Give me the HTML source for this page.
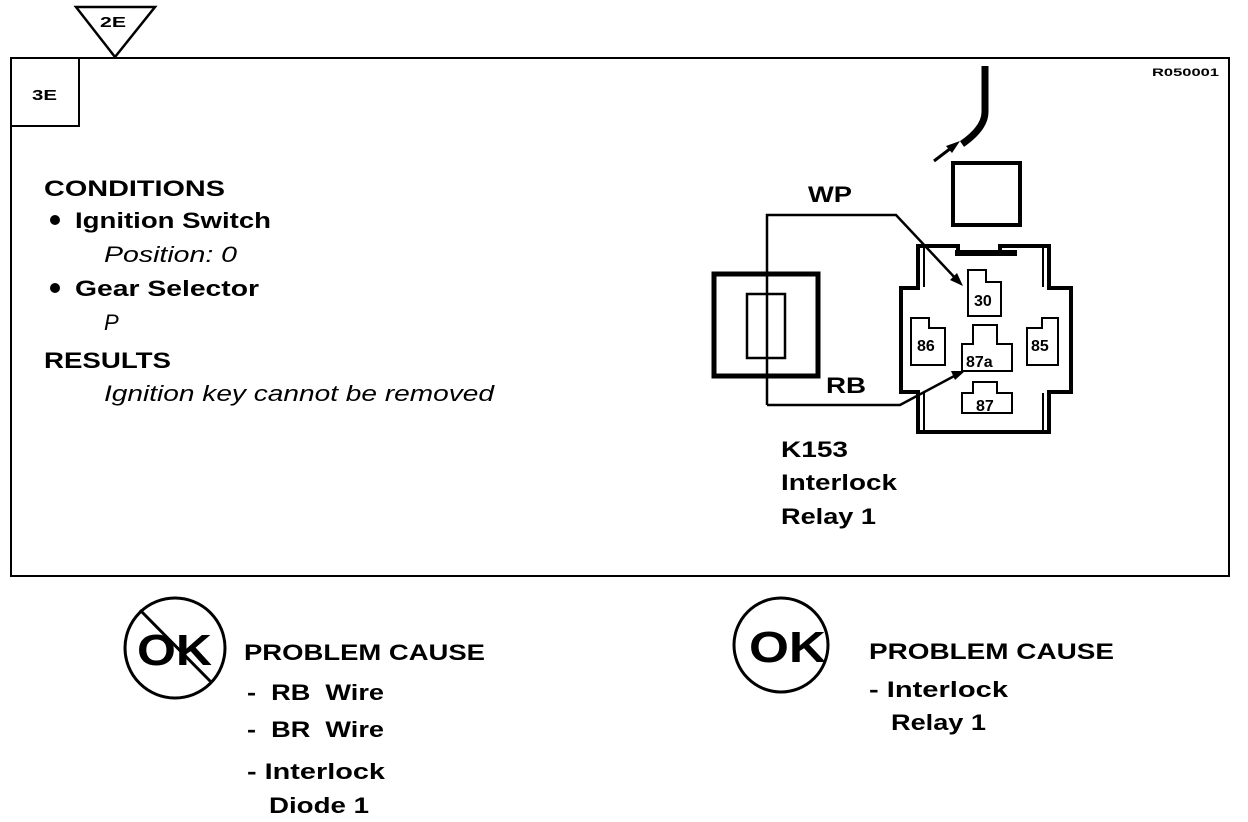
<!DOCTYPE html>
<html><head><meta charset="utf-8"><style>
html,body{margin:0;padding:0;background:#fff;}
svg{display:block;}
text{font-family:"Liberation Sans",Arial,sans-serif;font-weight:bold;fill:#000;}
.it{font-style:italic;font-weight:normal;}
</style></head><body>
<svg width="1248" height="822" viewBox="0 0 1248 822" xmlns="http://www.w3.org/2000/svg">
<rect x="11" y="58" width="1218" height="518" fill="none" stroke="#000" stroke-width="2"/>
<rect x="11" y="58" width="68" height="68" fill="none" stroke="#000" stroke-width="2"/>
<text x="32" y="100" font-size="15" textLength="25" lengthAdjust="spacingAndGlyphs">3E</text>
<polygon points="76,7 155,7 115,57" fill="#fff" stroke="#000" stroke-width="2.5"/>
<text x="100" y="27" font-size="15" textLength="26" lengthAdjust="spacingAndGlyphs">2E</text>
<text x="1152" y="76" font-size="11" font-weight="normal" textLength="67" lengthAdjust="spacingAndGlyphs">R050001</text>

<text x="44" y="196" font-size="22" textLength="181" lengthAdjust="spacingAndGlyphs">CONDITIONS</text>
<circle cx="55" cy="220" r="5"/>
<text x="75" y="228" font-size="22" textLength="196" lengthAdjust="spacingAndGlyphs">Ignition Switch</text>
<text x="104" y="262" font-size="22" class="it" textLength="133" lengthAdjust="spacingAndGlyphs">Position: 0</text>
<circle cx="55" cy="288" r="5"/>
<text x="75" y="296" font-size="22" textLength="184" lengthAdjust="spacingAndGlyphs">Gear Selector</text>
<text x="104" y="330" font-size="22" class="it">P</text>
<text x="44" y="368" font-size="22" textLength="127" lengthAdjust="spacingAndGlyphs">RESULTS</text>
<text x="104" y="401" font-size="22" class="it" textLength="390" lengthAdjust="spacingAndGlyphs">Ignition key cannot be removed</text>

<path d="M985,66 L985,112 Q985,128 962,144" fill="none" stroke="#000" stroke-width="7"/>
<line x1="934" y1="161" x2="955" y2="145" stroke="#000" stroke-width="3"/>
<polygon points="960,141 946,146 952,153" fill="#000"/>
<rect x="953" y="163" width="67" height="62" fill="none" stroke="#000" stroke-width="4"/>

<rect x="714" y="274" width="104" height="102" fill="none" stroke="#000" stroke-width="5"/>
<rect x="747" y="294" width="38" height="64" fill="none" stroke="#000" stroke-width="2.5"/>

<polyline points="767,405 767,215 896,215 957,280" fill="none" stroke="#000" stroke-width="2.5"/>
<polygon points="963,286 950,280 957,273" fill="#000"/>
<polyline points="767,405 900,405 958,374" fill="none" stroke="#000" stroke-width="2.5"/>
<polygon points="965,371 951,371 955,380" fill="#000"/>
<text x="808" y="202" font-size="22" textLength="44" lengthAdjust="spacingAndGlyphs">WP</text>
<text x="826" y="393" font-size="22" textLength="40" lengthAdjust="spacingAndGlyphs">RB</text>

<path d="M918,246 L918,288 L901,288 L901,392 L918,392 L918,432 L1049,432 L1049,392 L1071,392 L1071,288 L1049,288 L1049,246 L1000,246 L1000,252 L958,252 L958,246 Z" fill="none" stroke="#000" stroke-width="4"/>
<line x1="924" y1="247" x2="924" y2="287" stroke="#000" stroke-width="2"/>
<line x1="1043" y1="247" x2="1043" y2="287" stroke="#000" stroke-width="2"/>
<line x1="924" y1="393" x2="924" y2="431" stroke="#000" stroke-width="2"/>
<line x1="1043" y1="393" x2="1043" y2="431" stroke="#000" stroke-width="2"/>
<rect x="955" y="250" width="62" height="6" fill="#000"/>
<path d="M968,270 L986,270 L986,282 L1001,282 L1001,316 L968,316 Z" fill="none" stroke="#000" stroke-width="2"/>
<text x="974" y="306" font-size="16" font-weight="normal">30</text>
<path d="M911,318 L929,318 L929,328 L945,328 L945,365 L911,365 Z" fill="none" stroke="#000" stroke-width="2"/>
<text x="917" y="351" font-size="16" font-weight="normal">86</text>
<path d="M1058,318 L1042,318 L1042,328 L1027,328 L1027,365 L1058,365 Z" fill="none" stroke="#000" stroke-width="2"/>
<text x="1031" y="351" font-size="16" font-weight="normal">85</text>
<path d="M973,325 L997,325 L997,344 L1012,344 L1012,371 L962,371 L962,344 L973,344 Z" fill="none" stroke="#000" stroke-width="2"/>
<text x="966" y="367" font-size="16" font-weight="normal">87a</text>
<path d="M973,382 L997,382 L997,393 L1012,393 L1012,413 L962,413 L962,393 L973,393 Z" fill="none" stroke="#000" stroke-width="2"/>
<text x="976" y="411" font-size="16" font-weight="normal">87</text>

<text x="781" y="457" font-size="22" textLength="67" lengthAdjust="spacingAndGlyphs">K153</text>
<text x="781" y="490" font-size="22" textLength="116" lengthAdjust="spacingAndGlyphs">Interlock</text>
<text x="781" y="524" font-size="22" textLength="95" lengthAdjust="spacingAndGlyphs">Relay 1</text>

<circle cx="175" cy="648" r="50" fill="none" stroke="#000" stroke-width="3"/>
<text x="137" y="665" font-size="44" textLength="75" lengthAdjust="spacingAndGlyphs">OK</text>
<line x1="140" y1="610" x2="212" y2="683" stroke="#000" stroke-width="3"/>
<text x="244" y="660" font-size="22" textLength="241" lengthAdjust="spacingAndGlyphs">PROBLEM CAUSE</text>
<text x="247" y="700" font-size="22" xml:space="preserve" textLength="137" lengthAdjust="spacingAndGlyphs">-  RB  Wire</text>
<text x="247" y="737" font-size="22" xml:space="preserve" textLength="137" lengthAdjust="spacingAndGlyphs">-  BR  Wire</text>
<text x="247" y="779" font-size="22" xml:space="preserve" textLength="138" lengthAdjust="spacingAndGlyphs">- Interlock</text>
<text x="269" y="813" font-size="22" textLength="100" lengthAdjust="spacingAndGlyphs">Diode 1</text>

<circle cx="781" cy="645" r="47" fill="none" stroke="#000" stroke-width="3"/>
<text x="749" y="662" font-size="44" textLength="77" lengthAdjust="spacingAndGlyphs">OK</text>
<text x="869" y="659" font-size="22" textLength="245" lengthAdjust="spacingAndGlyphs">PROBLEM CAUSE</text>
<text x="869" y="697" font-size="22" xml:space="preserve" textLength="139" lengthAdjust="spacingAndGlyphs">- Interlock</text>
<text x="891" y="730" font-size="22" textLength="95" lengthAdjust="spacingAndGlyphs">Relay 1</text>
</svg>
</body></html>
